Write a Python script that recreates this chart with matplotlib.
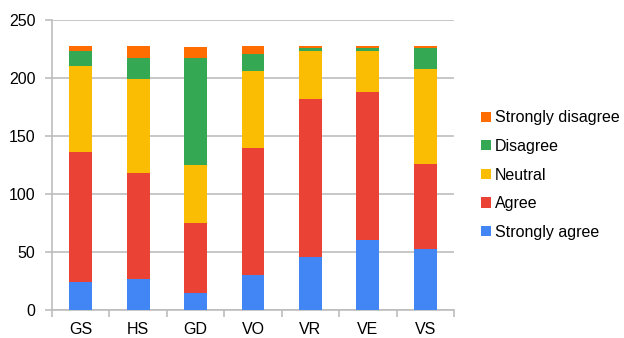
import numpy as np
import matplotlib.pyplot as plt

plt.rcParams['font.family'] = ['Liberation Sans', 'DejaVu Sans']

categories = ['GS', 'HS', 'GD', 'VO', 'VR', 'VE', 'VS']
strongly_agree = [24, 27, 15, 30, 46, 60, 53]
agree = [112, 91, 60, 110, 136, 128, 73]
neutral = [74, 81, 50, 66, 41, 35, 82]
disagree = [13, 18, 92, 15, 3, 3, 18]
strongly_disagree = [5, 11, 10, 7, 2, 2, 2]

series = [
    ('Strongly agree', strongly_agree, '#4285F4'),
    ('Agree', agree, '#EA4335'),
    ('Neutral', neutral, '#FBBC04'),
    ('Disagree', disagree, '#34A853'),
    ('Strongly disagree', strongly_disagree, '#FF6D01'),
]

fig = plt.figure(figsize=(6.24, 3.38), dpi=100)
ax = fig.add_axes([52 / 624, 28 / 338, 402 / 624, 290 / 338])

x = np.arange(len(categories))
bottom = np.zeros(len(categories))
handles = []
for name, vals, col in series:
    b = ax.bar(x, vals, 0.4, bottom=bottom, color=col, label=name, zorder=3)
    handles.append(b)
    bottom += np.array(vals)

ax.set_xlim(-0.5, len(categories) - 0.5)
ax.set_ylim(0, 250)
ax.set_yticks(range(0, 251, 50))
ax.yaxis.grid(True, color='#bdbdbd', linewidth=1.2, zorder=0)
ax.tick_params(axis='y', length=5, color='#bdbdbd', labelsize=11.5, pad=7, width=1.2)

ax.set_xticks(x)
ax.set_xticklabels(categories)
ax.set_xticks(np.arange(-0.5, len(categories)), minor=True)
ax.tick_params(axis='x', which='major', length=0, labelsize=11.5, pad=9)
ax.tick_params(axis='x', which='minor', length=5, color='#bdbdbd', width=1.2)

for s in ['top', 'right']:
    ax.spines[s].set_visible(False)
for s in ['left', 'bottom']:
    ax.spines[s].set_color('#bdbdbd')
    ax.spines[s].set_linewidth(1.2)

leg = fig.legend(handles[::-1], [s[0] for s in series][::-1],
                 loc='center left', bbox_to_anchor=(467 / 624, 1 - 175 / 338),
                 frameon=False, fontsize=11.5, handlelength=0.6, handleheight=0.6,
                 handletextpad=0.25, labelspacing=0.85)

fig.savefig('out.png', dpi=100)
